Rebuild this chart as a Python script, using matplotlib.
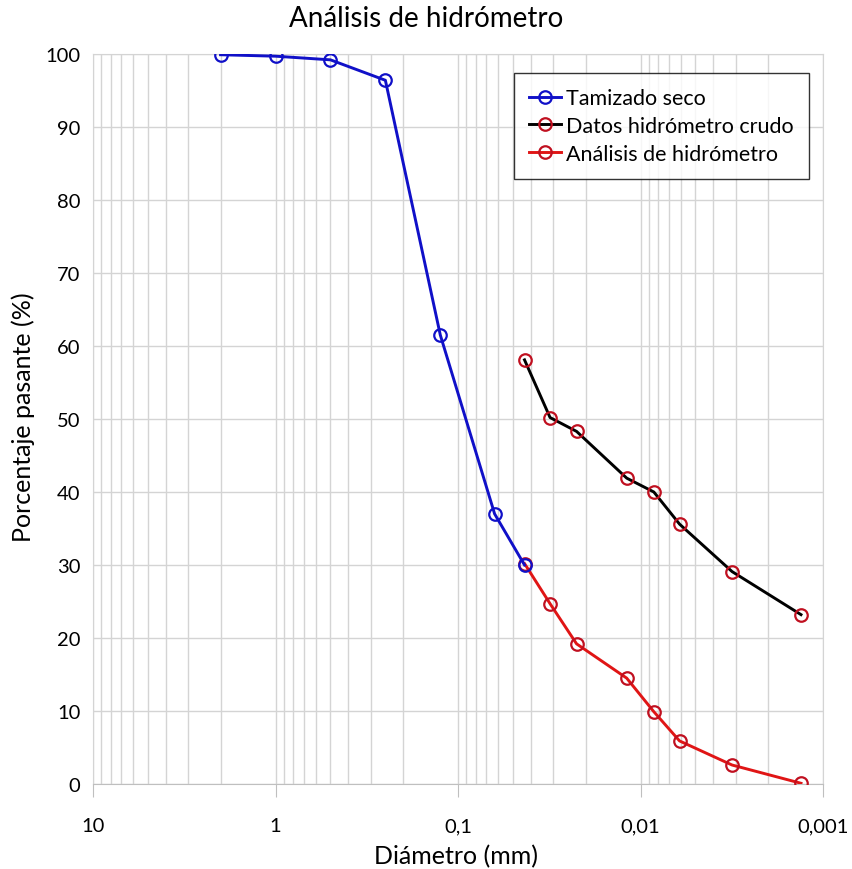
import matplotlib.pyplot as plt
from matplotlib.ticker import FixedLocator, LogLocator, NullFormatter

plt.rcParams['font.family'] = ['Lato', 'DejaVu Sans']

# tamizado seco
d_tamiz = [2.0, 1.0, 0.5, 0.25, 0.125, 0.063, 0.0432]
p_tamiz = [99.9, 99.7, 99.2, 96.4, 61.5, 37.0, 30.0]

# hidrómetro
d_hidro = [0.0432, 0.0313, 0.0224, 0.0119, 0.00845, 0.00611, 0.00315, 0.00132]
p_crudo = [58.1, 50.2, 48.3, 41.9, 40.0, 35.6, 29.1, 23.2]
p_hidro = [30.2, 24.7, 19.2, 14.5, 9.9, 5.9, 2.6, 0.1]

x_ticks = [10, 1, 0.1, 0.01, 0.001]
x_labels = ["10", "1", "0,1", "0,01", "0,001"]

fig = plt.figure(figsize=(8.52, 8.7), dpi=100)
ax = fig.add_axes([93 / 852, 1 - 785 / 870, 730 / 852, 730 / 870])

ax.plot(d_tamiz, p_tamiz, color="#1010c8", lw=2.1, marker="o", ms=9,
        mfc="none", mec="#1010c8", mew=1.6, label="Tamizado seco", zorder=4)
ax.plot(d_hidro, p_crudo, color="black", lw=2.1, marker="o", ms=9,
        mfc="none", mec="#c01020", mew=1.6, label="Datos hidrómetro crudo", zorder=3)
ax.plot(d_hidro, p_hidro, color="#e01515", lw=2.1, marker="o", ms=9,
        mfc="none", mec="#c01020", mew=1.6, label="Análisis de hidrómetro", zorder=3)

ax.set_xscale("log")
ax.set_xlim(10, 0.001)
ax.set_ylim(0, 100)
ax.set_yticks(range(0, 101, 10))
ax.xaxis.set_major_locator(FixedLocator(x_ticks))
ax.set_xticklabels(x_labels)
ax.xaxis.set_minor_locator(LogLocator(base=10, subs=range(2, 10)))
ax.xaxis.set_minor_formatter(NullFormatter())

ax.grid(True, which="both", color="#d4d4d4", lw=1.0)
ax.set_axisbelow(True)
for s in ["top", "right", "left"]:
    ax.spines[s].set_color("#d4d4d4")
ax.spines["bottom"].set_color("#bfbfbf")
ax.tick_params(axis="x", which="major", length=9, color="#bfbfbf",
               labelsize=14.5, pad=15)
ax.tick_params(axis="x", which="minor", length=0)
ax.tick_params(axis="y", length=0, labelsize=14.5, pad=9)

fig.text(0.5, 1 - 19 / 870, "Análisis de hidrómetro", fontsize=20,
         ha="center", va="center")
fig.text(456 / 852, 1 - 857 / 870, "Diámetro (mm)", fontsize=18,
         ha="center", va="center")
fig.text(23 / 852, 1 - 417 / 870, "Porcentaje pasante (%)", fontsize=18,
         ha="center", va="center", rotation=90)

leg = ax.legend(loc="upper right", bbox_to_anchor=(0.981, 0.974),
                borderaxespad=0, fontsize=15.5, frameon=True, fancybox=False,
                handlelength=1.5, handletextpad=0.25, labelspacing=0.37,
                borderpad=0.7)
leg.get_frame().set_edgecolor("black")
leg.get_frame().set_linewidth(1.0)

fig.savefig("out.png", dpi=100)
